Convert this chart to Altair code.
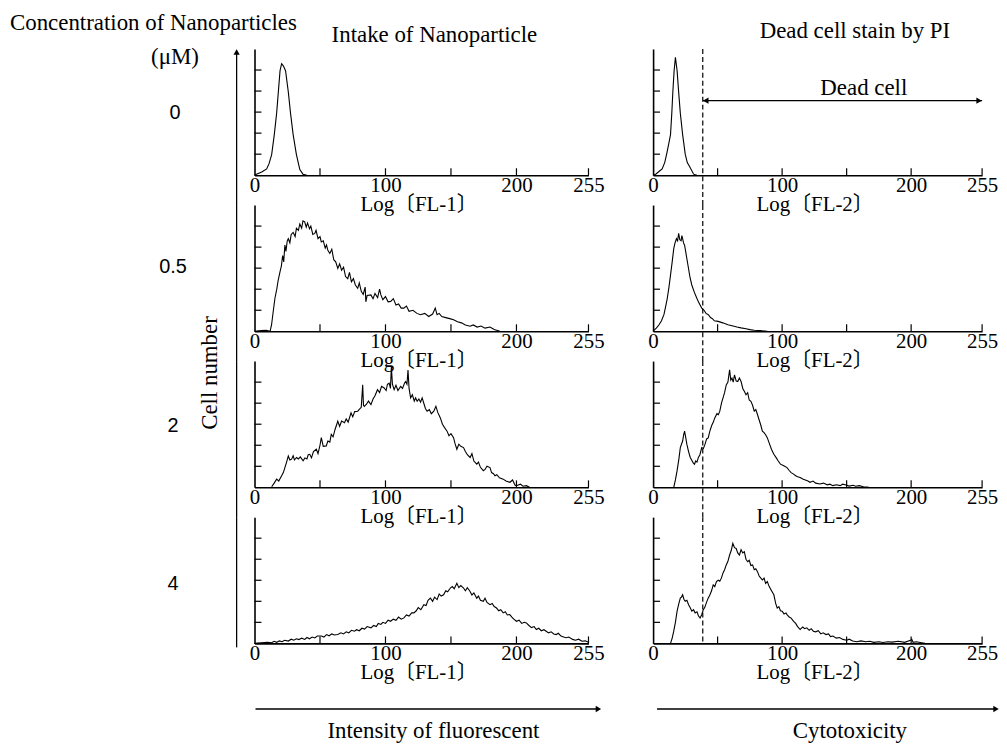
import altair as alt
import pandas as pd

SERIF = "Liberation Serif"
SERIF_CJK = "Liberation Serif, Noto Sans CJK JP"
SANS = "Liberation Sans"

CONCENTRATIONS = ["0", "0.5", "2", "4"]
X_TICK_LABELS = [0, 100, 200, 255]
X_TICK_MARKS = [50, 100, 150, 200, 255]
Y_TICK_MARKS = [1, 2, 3, 4, 5]
DEAD_CELL_GATE = 38.5
AXIS_TITLES = ["Log〔FL-1〕", "Log〔FL-2〕"]

# ---- histograms (x = channel 0..255, y = cell number in tick units) ----
L1 = [(0, 0), (1.5, 0.05), (5.5, 0.15), (9.3, 0.3), (11.1, 0.55), (13.1, 0.98), (15.1, 1.93),
      (16.9, 2.95), (18.2, 3.96), (19.5, 4.97), (20.7, 5.3), (22, 5.2), (23.7, 4.97), (25.8, 3.96),
      (27.5, 2.95), (29.5, 1.93), (32, 0.98), (34.6, 0.27), (37, 0.05), (40, 0)]

R1 = [(0, 0), (2, 0.05), (5, 0.2), (7, 0.3), (9, 0.6), (10.5, 1.0), (12, 1.45), (13.5, 1.93),
      (14.5, 2.95), (15.3, 3.96), (16.3, 4.97), (17.3, 5.6), (18.6, 4.97), (19.8, 3.96), (21.1, 2.95),
      (22.9, 1.93), (24.9, 1.0), (26.5, 0.6), (28.8, 0.35), (31.4, 0.05), (34, 0)]

L2 = [(0, 0), (5, 0.03), (9, 0.05), (11.9, 0), (13, 0.3), (14, 0.8), (15.6, 1.57), (17, 2.0), (18, 2.4),
      (19.5, 2.83), (20.5, 3.1), (21.5, 3.6), (22.3, 3.3), (23.2, 4.1), (24, 3.8), (25, 4.3), (25.8, 4.4),
      (27, 4.2), (28, 4.6), (29.5, 4.7), (31, 4.5), (32, 4.9), (33.5, 4.8), (34.6, 5.1), (36, 4.9),
      (37, 5.25), (38.3, 5.2), (39.5, 4.95), (40.5, 5.15), (42, 4.87), (43, 5.0), (44.5, 4.6), (46, 4.65),
      (47, 4.8), (48.5, 4.4), (50, 4.5), (51, 4.25), (52.5, 4.3), (54, 3.95), (55, 4.1), (56, 3.85),
      (57.5, 3.7), (59, 3.9), (60.5, 3.4), (62, 3.3), (63.6, 2.99), (65, 3.2), (66.5, 2.9), (68, 3.05),
      (69.5, 2.6), (71.2, 2.5), (72.5, 2.8), (74, 2.35), (75.5, 2.5), (77, 2.2), (78.8, 2.04), (80, 2.3),
      (81.5, 1.9), (83, 1.75), (84.5, 2.1), (85, 1.4), (86, 1.7), (88.9, 1.73), (90.5, 1.55), (92, 1.8),
      (94, 1.6), (95.5, 2.0), (96.5, 1.73), (98, 1.5), (100, 1.65), (102, 1.4), (104, 1.42), (106, 1.55),
      (108, 1.25), (110, 1.3), (112, 1.1), (114, 1.1), (116, 1.2), (118, 0.95), (121, 1.0), (124, 0.85),
      (126.7, 0.79), (130, 0.85), (133, 0.7), (136, 0.82), (138, 1.1), (139.4, 0.79), (141, 0.85),
      (143, 0.7), (146, 0.65), (149, 0.6), (152, 0.55), (155, 0.45), (158, 0.4), (161, 0.3), (164.6, 0.24),
      (167, 0.3), (170, 0.2), (173, 0.25), (176, 0.15), (179.8, 0.2), (183, 0.08), (187.4, 0)]

R2 = [(0, 0), (0.8, 0.05), (2.5, 0.15), (4.6, 0.31), (6.5, 0.5), (8.4, 0.79), (10, 1.25), (11, 1.57),
      (12.3, 2.1), (13.5, 2.67), (14.8, 3.3), (16, 3.93), (17, 4.2), (18.1, 4.4), (19, 4.3), (19.8, 4.65),
      (20.7, 4.35), (21.7, 4.3), (22.3, 4.55), (22.9, 4.4), (23.6, 4.2), (24.4, 4.09), (25.5, 3.7),
      (27, 3.15), (28.5, 2.6), (30, 2.2), (32, 1.85), (33.9, 1.57), (35.5, 1.35), (37.7, 1.1), (39.5, 1.0),
      (41, 0.85), (42.8, 0.79), (44.5, 0.65), (46, 0.6), (47.5, 0.5), (50.4, 0.47), (54, 0.4), (58, 0.31),
      (62, 0.25), (65, 0.2), (68.2, 0.16), (72, 0.12), (75, 0.08), (78.4, 0.05), (83, 0.03), (88.5, 0)]

L3 = [(13.1, 0.03), (15, 0.2), (16.9, 0.39), (18.5, 0.3), (20.7, 0.55), (22, 0.7), (23.2, 0.94),
      (24.5, 1.2), (25.8, 1.49), (27, 1.3), (28.3, 1.34), (29.5, 1.5), (30.5, 1.3), (32.1, 1.42),
      (33.5, 1.35), (35, 1.45), (37.1, 1.26), (38.5, 1.4), (40, 1.35), (41, 1.55), (42.2, 1.57), (43.5, 1.4),
      (45, 1.7), (47.2, 1.81), (48.5, 1.6), (50, 2.0), (51, 2.36), (52.5, 1.95), (54.8, 1.97), (56, 2.2),
      (57.5, 2.15), (58.6, 2.52), (60, 2.4), (61.5, 2.75), (63.6, 3.14), (65, 2.9), (66.5, 3.15),
      (68.7, 3.07), (70, 3.25), (71.5, 3.1), (73.7, 3.54), (75, 3.35), (76.5, 3.6), (78.8, 3.62), (80, 3.7),
      (81.5, 3.8), (82.6, 4.87), (83.2, 3.9), (83.8, 3.85), (85.5, 3.95), (87, 4.1), (88.9, 3.93),
      (90.5, 4.2), (92, 4.35), (93.9, 4.64), (95.5, 4.5), (97, 4.8), (99, 4.72), (100.5, 4.6), (101.5, 4.9),
      (102.8, 4.95), (103.8, 4.7), (104.5, 5.74), (105.3, 4.9), (106.6, 4.64), (108, 4.85), (109.5, 4.6),
      (111.6, 4.8), (113, 4.7), (114.5, 4.95), (115.4, 5.03), (116.4, 4.9), (117.2, 5.58), (118, 4.7),
      (119.2, 4.25), (120.5, 4.4), (122, 4.1), (123, 4.25), (124.2, 4.09), (125.5, 4.2), (126.8, 4.05),
      (128, 4.25), (129.5, 3.95), (130.5, 3.75), (131.8, 3.62), (133.5, 3.7), (135, 3.5), (136.9, 3.62),
      (138.5, 3.85), (140, 3.55), (141.9, 3.3), (143.5, 3.0), (145, 2.85), (147, 2.67), (148.5, 2.45),
      (150, 2.55), (152, 2.36), (153, 2.1), (154.5, 1.81), (156, 2.05), (157.5, 1.95), (159.6, 1.89),
      (161, 1.7), (162.5, 1.55), (164.6, 1.42), (166, 1.6), (167.5, 1.25), (169.7, 1.1), (171, 1.2),
      (172.5, 0.95), (174.7, 0.79), (176, 0.85), (177.5, 1.0), (179.8, 0.94), (181, 0.7), (182.5, 0.65),
      (183.6, 0.55), (185, 0.6), (187, 0.45), (189.9, 0.39), (192, 0.3), (195, 0.24), (197, 0.35),
      (199, 0.1), (200, 0.08), (203, 0.15), (205, 0.05), (207.6, 0.08), (210, 0)]

R3 = [(16, 0), (17.3, 0.35), (18.6, 0.79), (20, 1.35), (21.1, 1.89), (22, 2.05), (22.9, 2.2), (23.7, 2.5),
      (24.4, 2.67), (25.2, 2.4), (26.2, 2.04), (27.5, 1.7), (28.8, 1.42), (30.3, 1.25), (31.2, 1.15),
      (32.1, 1.1), (33, 1.25), (34, 1.2), (35.1, 1.42), (36.3, 1.55), (37.7, 1.89), (39, 1.85), (40.2, 2.04),
      (41.5, 2.3), (42.7, 2.35), (44, 2.67), (45.5, 2.95), (46.7, 3.1), (47.8, 3.3), (49.5, 3.5),
      (50.6, 3.45), (51.7, 3.62), (53, 4.0), (54.2, 4.25), (55.4, 4.5), (56.7, 4.87), (58, 5.0), (59.3, 5.58),
      (60.2, 5.1), (61.1, 5.19), (62.1, 5.0), (63.1, 5.35), (64.4, 5.05), (65.6, 5.03), (66.9, 5.2),
      (68.2, 5.03), (69.5, 4.7), (70.8, 4.55), (72, 4.4), (73.3, 4.5), (74.5, 4.15), (75.8, 4.09),
      (77.1, 3.9), (78.4, 3.62), (79.6, 3.7), (80.9, 3.46), (82.2, 3.2), (83.5, 2.95), (84.7, 2.67),
      (86, 2.6), (87.2, 2.5), (88.5, 2.36), (90, 2.1), (91.8, 1.8), (93.6, 1.57), (95.5, 1.4), (97, 1.25),
      (98.7, 1.1), (100.5, 1.05), (102, 1.0), (103.8, 0.94), (105.5, 0.8), (107, 0.7), (108.9, 0.63),
      (110.5, 0.55), (112, 0.5), (114, 0.47), (116, 0.4), (118, 0.35), (120, 0.3), (121.6, 0.24),
      (124, 0.3), (126, 0.2), (129.3, 0.16), (132, 0.2), (135, 0.12), (137, 0.15), (139.4, 0.08),
      (142, 0.12), (145, 0.08), (147, 0.15), (149.6, 0.11), (152, 0.06), (155, 0.1), (157, 0.05),
      (159.8, 0.08), (163, 0.03), (167.4, 0)]

L4 = [(0, 0), (5, 0.03), (10, 0.05), (13.1, 0.03), (15, 0.1), (17, 0.05), (19, 0.12), (21, 0.08),
      (23, 0.15), (25.8, 0.11), (28, 0.2), (30, 0.15), (32, 0.22), (34, 0.18), (36, 0.25), (38.4, 0.19),
      (40, 0.28), (42, 0.22), (44, 0.3), (46, 0.26), (48, 0.35), (51, 0.35), (53, 0.3), (55, 0.42),
      (57, 0.36), (59, 0.45), (61, 0.4), (63.6, 0.42), (66, 0.5), (68, 0.45), (70, 0.55), (72, 0.5),
      (74, 0.62), (76.3, 0.58), (78, 0.65), (80, 0.6), (82, 0.72), (84, 0.68), (86, 0.8), (88.9, 0.74),
      (91, 0.85), (93, 0.8), (94.5, 0.95), (96.5, 0.9), (98, 1.0), (100, 0.95), (102, 1.1), (103.9, 1.05),
      (106, 1.15), (108, 1.1), (110, 1.25), (112, 1.15), (114.1, 1.21), (116, 1.35), (118, 1.3),
      (120, 1.45), (121.7, 1.45), (123.5, 1.55), (125, 1.7), (127, 1.6), (129.3, 1.84), (131, 1.8),
      (132.5, 2.05), (134.3, 2.15), (136, 2.0), (137.5, 2.2), (139.4, 2.08), (141, 2.35), (142.5, 2.25),
      (144.4, 2.31), (146, 2.5), (147.5, 2.45), (149.5, 2.63), (151, 2.7), (152.5, 2.6), (154.5, 2.86),
      (156, 2.65), (157.5, 2.75), (159.6, 2.63), (161, 2.5), (162.5, 2.65), (164.6, 2.47), (166, 2.3),
      (167.5, 2.4), (169.7, 2.15), (171, 2.25), (172.5, 2.05), (174.7, 2.0), (176, 2.15), (177.5, 1.95),
      (179.8, 1.84), (181.5, 1.9), (183, 1.75), (184.8, 1.68), (186.5, 1.55), (188, 1.6), (189.9, 1.45),
      (191.5, 1.5), (193, 1.35), (194.9, 1.37), (196.5, 1.25), (198, 1.15), (200, 1.05), (202, 1.1),
      (204, 0.95), (206, 1.0), (207.6, 0.97), (209.5, 0.85), (211.5, 0.75), (213.5, 0.8), (215.2, 0.66),
      (217, 0.72), (219, 0.6), (221, 0.65), (222.7, 0.58), (224.5, 0.5), (226.5, 0.55), (228.5, 0.45),
      (230.3, 0.42), (232, 0.48), (234, 0.35), (236, 0.3), (237.9, 0.27), (240, 0.3), (242.9, 0.19),
      (245, 0.15), (247.5, 0.2), (250, 0.1), (252.5, 0.12), (255, 0.05)]

R4 = [(13.5, 0), (14.8, 0.25), (16, 0.58), (17.3, 1.0), (18.6, 1.53), (19.8, 1.85), (21.1, 2.15), (22, 2.2),
      (22.9, 2.31), (23.9, 2.1), (24.9, 2.0), (26.2, 2.05), (27.5, 1.84), (28.7, 1.7), (30, 1.53),
      (31.3, 1.6), (32.6, 1.45), (34, 1.5), (35.2, 1.3), (36.4, 1.21), (37.6, 1.35), (38.9, 1.6), (40, 1.7),
      (41.4, 1.95), (42.7, 2.15), (44, 2.3), (45.3, 2.5), (46.6, 2.78), (47.8, 2.7), (49.1, 2.94),
      (50.5, 3.0), (51.7, 2.95), (52.9, 3.1), (54.2, 3.35), (55.4, 3.5), (56.7, 3.73), (58, 3.9), (59.3, 4.2),
      (60.5, 4.4), (61.8, 4.75), (63.1, 4.55), (64.4, 4.51), (65.6, 4.3), (66.9, 4.2), (68.2, 4.45),
      (69.5, 4.3), (70.7, 4.36), (72, 4.0), (73.3, 3.88), (74.5, 3.95), (75.8, 3.7), (77.1, 3.73),
      (78.4, 3.5), (79.6, 3.55), (80.9, 3.41), (82.2, 3.2), (83.5, 3.1), (84.7, 3.02), (86, 3.1),
      (87.2, 2.85), (88.5, 2.94), (90, 2.7), (91.8, 2.5), (93.6, 2.31), (95, 1.9), (96.2, 1.68),
      (97.5, 1.75), (98.7, 1.55), (100, 1.53), (101.5, 1.4), (103, 1.45), (103.8, 1.37), (105.5, 1.25),
      (107, 1.2), (108.9, 1.05), (110.5, 0.95), (112, 0.8), (114, 0.66), (116, 0.78), (117.5, 0.7),
      (119.1, 0.74), (121, 0.62), (122.5, 0.7), (124.2, 0.58), (126, 0.55), (128, 0.6), (130, 0.45),
      (131.8, 0.5), (134, 0.42), (136, 0.45), (137.5, 0.32), (139.4, 0.35), (142, 0.25), (144.5, 0.28),
      (147.1, 0.19), (150, 0.15), (152, 0.2), (154.7, 0.11), (158, 0.08), (161, 0.12), (164.9, 0.08),
      (168, 0.1), (171, 0.05), (175.1, 0.08), (178, 0.04), (182, 0.08), (185.2, 0.06), (190, 0.1),
      (195, 0.05), (199.5, 0.15), (200.5, 0.19), (201.5, 0.05), (204, 0.08), (208.1, 0.03), (210.7, 0)]

# ---- layout (pixels) ----
W_L, W_R, H = 336, 331, 127
ROW_GAP, COL_GAP = 30, 65

X_SCALE = alt.Scale(domain=[0, 255], nice=False, zero=False)
Y_SCALE = alt.Scale(domain=[0, 6], nice=False)


def one(**cols):
    return pd.DataFrame({k: [v] for k, v in cols.items()})


def label(text, x, y, size=23, font=SERIF, align="center", baseline="alphabetic", angle=0):
    return alt.Chart(one(t=text)).mark_text(
        font=font, fontSize=size, align=align, baseline=baseline, angle=angle, color="black"
    ).encode(text="t:N", x=alt.value(x), y=alt.value(y))


def seg(x, y, x2, y2, width=1.3):
    return alt.Chart(one(d=0)).mark_rule(color="black", strokeWidth=width).encode(
        x=alt.value(x), y=alt.value(y), x2=alt.value(x2), y2=alt.value(y2))


def head(shape, x, y, size=40):
    return alt.Chart(one(d=0)).mark_point(
        shape=shape, filled=True, size=size, color="black", opacity=1, strokeWidth=0
    ).encode(x=alt.value(x), y=alt.value(y))


def panel(points, width, title, extras):
    df = pd.DataFrame(points, columns=["x", "y"])
    line = alt.Chart(df).mark_line(color="black", strokeWidth=1.1).encode(
        x=alt.X("x:Q", scale=X_SCALE, axis=alt.Axis(
            values=X_TICK_LABELS, ticks=False, tickSize=0, grid=False,
            domainColor="black", domainWidth=1.6,
            labelFont=SERIF, labelFontSize=21, labelColor="black", labelAngle=0,
            labelBaseline="alphabetic", labelPadding=16, labelFlush=False, labelOverlap=False,
            title=title, titleFont=SERIF_CJK, titleFontSize=21, titleFontWeight="normal",
            titleColor="black", titleBaseline="alphabetic", titleY=35, titleX=width / 2 - 3)),
        y=alt.Y("y:Q", scale=Y_SCALE, axis=alt.Axis(
            labels=False, ticks=False, tickSize=0, grid=False,
            domainColor="black", domainWidth=1.6, title="")),
    )
    yt = alt.Chart(pd.DataFrame({"y": Y_TICK_MARKS})).mark_rule(color="black", strokeWidth=1.2).encode(
        y=alt.Y("y:Q", scale=Y_SCALE), x=alt.value(0), x2=alt.value(7))
    xt = alt.Chart(pd.DataFrame({"x": X_TICK_MARKS})).mark_rule(color="black", strokeWidth=1.2).encode(
        x=alt.X("x:Q", scale=X_SCALE), y=alt.value(H), y2=alt.value(H - 7))
    return alt.layer(line, yt, xt, *extras).properties(width=width, height=H)


def gate(y2):
    return alt.Chart(one(x=DEAD_CELL_GATE)).mark_rule(
        color="black", strokeWidth=1.2, strokeDash=[5, 3]
    ).encode(x=alt.X("x:Q", scale=X_SCALE), y=alt.value(0), y2=alt.value(y2))


SPAN = H + ROW_GAP
AX_X = -18  # big vertical "Cell number" arrow, relative to left panels

dead_arrow = [
    alt.Chart(one(x=DEAD_CELL_GATE, x_end=255)).mark_rule(color="black", strokeWidth=1.2).encode(
        x=alt.X("x:Q", scale=X_SCALE), x2="x_end:Q", y=alt.value(52)),
    alt.Chart(one(x=DEAD_CELL_GATE)).mark_point(
        shape="triangle-left", filled=True, size=40, color="black", opacity=1, xOffset=3
    ).encode(x=alt.X("x:Q", scale=X_SCALE), y=alt.value(52)),
    alt.Chart(one(x=255)).mark_point(
        shape="triangle-right", filled=True, size=40, color="black", opacity=1, xOffset=-3
    ).encode(x=alt.X("x:Q", scale=X_SCALE), y=alt.value(52)),
    label("Dead cell", 212, 46),
]

p_L1 = panel(L1, W_L, AXIS_TITLES[0], [
    label("Concentration of Nanoparticles", -246, -19, align="left"),
    label("(μM)", -80, 8, baseline="middle"),
    label("Intake of Nanoparticle", 181, -7),
    label(CONCENTRATIONS[0], -80, 64, size=20, font=SANS, baseline="middle"),
    seg(AX_X, 2, AX_X, SPAN), head("triangle-up", AX_X, 3),
])
p_R1 = panel(R1, W_R, AXIS_TITLES[1], [
    gate(SPAN), label("Dead cell stain by PI", 203, -11), *dead_arrow,
])
p_L2 = panel(L2, W_L, AXIS_TITLES[0], [
    label(CONCENTRATIONS[1], -82, 62, size=20, font=SANS, baseline="middle"),
    label("Cell number", -45, 169, baseline="middle", angle=270),
    seg(AX_X, 0, AX_X, SPAN),
])
p_R2 = panel(R2, W_R, AXIS_TITLES[1], [gate(SPAN)])
p_L3 = panel(L3, W_L, AXIS_TITLES[0], [
    label(CONCENTRATIONS[2], -82, 65.5, size=20, font=SANS, baseline="middle"),
    seg(AX_X, 0, AX_X, SPAN),
])
p_R3 = panel(R3, W_R, AXIS_TITLES[1], [gate(SPAN)])
p_L4 = panel(L4, W_L, AXIS_TITLES[0], [
    label(CONCENTRATIONS[3], -82, 67, size=20, font=SANS, baseline="middle"),
    seg(AX_X, 0, AX_X, 131),
    seg(1, 193, 346, 193), head("triangle-right", 346, 193),
    label("Intensity of fluorescent", 180, 222),
])
p_R4 = panel(R4, W_R, AXIS_TITLES[1], [
    gate(H),
    seg(4, 193, 345, 193), head("triangle-right", 345, 193),
    label("Cytotoxicity", 198, 222),
])

chart = alt.concat(
    p_L1, p_R1, p_L2, p_R2, p_L3, p_R3, p_L4, p_R4,
    columns=2, spacing={"row": ROW_GAP, "column": COL_GAP}, bounds="flush",
).properties(
    padding={"left": 2, "top": 2, "right": 0, "bottom": 0},
    background="white",
).configure_view(strokeWidth=0)

chart.save("out.html", embed_options={"renderer": "svg", "actions": False})
